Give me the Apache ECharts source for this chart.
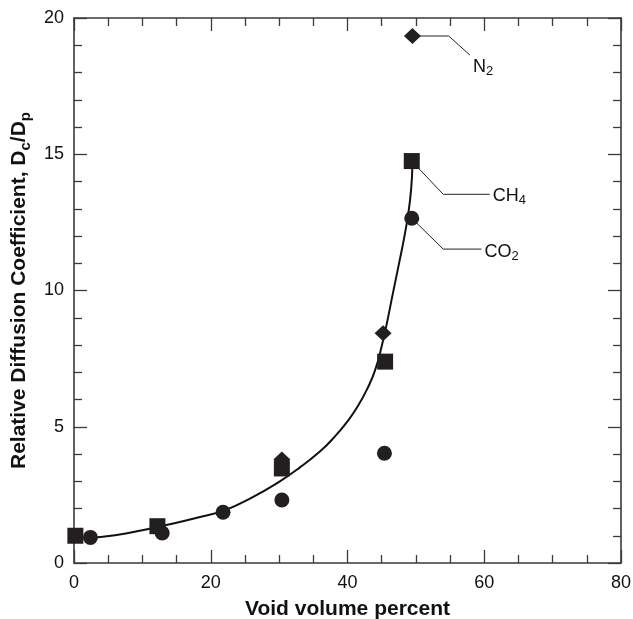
<!DOCTYPE html>
<html>
<head>
<meta charset="utf-8">
<script src="https://cdn.jsdelivr.net/npm/echarts@6/dist/echarts.min.js"></script>
<style>
html,body{margin:0;padding:0;background:#fff;}
#chart{width:633px;height:619px;}
</style>
</head>
<body>
<div id="chart"></div>
<script>
// CH4 (squares)
var ch4X = [0.2, 12.2, 30.4, 45.5, 49.4];
var ch4Y = [1.0, 1.35, 3.47, 7.39, 14.75];
// CO2 (circles)
var co2X = [2.4, 12.9, 21.8, 30.4, 45.4, 49.4];
var co2Y = [0.94, 1.1, 1.86, 2.31, 4.03, 12.65];
// N2 (diamonds)
var n2X = [30.4, 45.2, 49.5];
var n2Y = [3.8, 8.43, 19.34];
// fitted curve
var fitX = [2.4, 6, 10, 14, 18, 22, 26, 30, 33, 36, 38, 40, 41.5, 43, 44, 45, 45.8, 46.6, 47.5, 48.3, 48.9, 49.3, 49.5];
var fitY = [0.92, 1.02, 1.2, 1.42, 1.66, 1.93, 2.4, 2.98, 3.5, 4.1, 4.6, 5.2, 5.75, 6.45, 7.05, 7.95, 8.85, 9.85, 10.95, 11.95, 12.85, 13.7, 14.6];
// annotation leader lines (data coordinates)
var n2LeadX = [49.5, 54.8, 57.9];
var n2LeadY = [19.34, 19.34, 18.64];
var ch4LeadX = [49.4, 54.0, 60.8];
var ch4LeadY = [14.75, 13.53, 13.53];
var co2LeadX = [49.4, 54.0, 59.6];
var co2LeadY = [12.65, 11.52, 11.52];

var xTicks = [0, 20, 40, 60, 80];
var yTicks = [0, 5, 10, 15, 20];

function pairs(xs, ys){ return xs.map(function(x,i){ return [x, ys[i]]; }); }

var FONT = 'Liberation Sans, Arial, Helvetica, sans-serif';
var INK = '#231f20';
var AX = '#3a3a3a';

function axisCommon(showLabel, minorSplit, margin){
  return {
    type: 'value',
    axisLine: {show: true, onZero: false, lineStyle: {color: AX, width: 1.6}},
    axisTick: {show: true, inside: true, length: 13, lineStyle: {color: AX, width: 1.3}},
    minorTick: {show: true, splitNumber: minorSplit, length: 8, lineStyle: {color: AX, width: 1.3}},
    splitLine: {show: false},
    axisLabel: {show: showLabel, color: '#111', fontFamily: FONT, fontSize: 18, margin: margin}
  };
}

var xBottom = Object.assign(axisCommon(true, 4, 11), {
  position: 'bottom', min: xTicks[0], max: xTicks[xTicks.length-1], interval: 20,
  name: 'Void volume percent', nameLocation: 'middle', nameGap: 36,
  nameTextStyle: {fontFamily: FONT, fontWeight: 'bold', fontSize: 21, color: '#111'}
});
var xTop = Object.assign(axisCommon(false, 4, 8), {
  position: 'top', min: xTicks[0], max: xTicks[xTicks.length-1], interval: 20
});
var yLeft = Object.assign(axisCommon(true, 5, 10), {
  position: 'left', min: yTicks[0], max: yTicks[yTicks.length-1], interval: 5,
  name: '{b|Relative Diffusion Coefficient, D}{s|c}{b|/D}{s|p}',
  nameLocation: 'middle', nameRotate: 90, nameGap: 34,
  nameTextStyle: {
    fontFamily: FONT, fontWeight: 'bold', fontSize: 21, color: '#111',
    rich: {
      b: {fontFamily: FONT, fontWeight: 'bold', fontSize: 21, color: '#111', lineHeight: 27, verticalAlign: 'middle'},
      s: {fontFamily: FONT, fontWeight: 'bold', fontSize: 15, color: '#111', lineHeight: 15, verticalAlign: 'bottom'}
    }
  }
});
var yRight = Object.assign(axisCommon(false, 5, 10), {
  position: 'right', min: yTicks[0], max: yTicks[yTicks.length-1], interval: 5
});

function leader(xs, ys, main, sub, offset){
  return {
    type: 'line', xAxisIndex: 0, yAxisIndex: 0, z: 1,
    data: pairs(xs, ys), symbol: 'none', silent: true,
    lineStyle: {color: '#222', width: 1},
    endLabel: {
      show: true, distance: 3, offset: offset,
      formatter: '{m|' + main + '}{s|' + sub + '}',
      rich: {
        m: {fontFamily: FONT, fontSize: 18, color: '#111', lineHeight: 22, verticalAlign: 'middle'},
        s: {fontFamily: FONT, fontSize: 13, color: '#111', lineHeight: 13, verticalAlign: 'bottom'}
      }
    },
    animation: false
  };
}

var option = {
  animation: false,
  backgroundColor: '#fff',
  grid: {left: 74, right: 12, top: 18, bottom: 56, containLabel: false, outerBoundsMode: 'none'},
  xAxis: [xBottom, xTop],
  yAxis: [yLeft, yRight],
  series: [
    {
      type: 'line', data: pairs(fitX, fitY), smooth: 0.5,
      symbol: 'none', lineStyle: {color: '#111', width: 2}, z: 2
    },
    leader(n2LeadX, n2LeadY, 'N', '2', [0, 12]),
    leader(ch4LeadX, ch4LeadY, 'CH', '4', [0, 2]),
    leader(co2LeadX, co2LeadY, 'CO', '2', [0, 3]),
    {
      type: 'scatter', name: 'CH4', data: pairs(ch4X, ch4Y), symbol: 'rect', symbolSize: 16,
      itemStyle: {color: INK, opacity: 1}, z: 3
    },
    {
      type: 'scatter', name: 'CO2', data: pairs(co2X, co2Y), symbol: 'circle', symbolSize: 15,
      itemStyle: {color: INK, opacity: 1}, z: 4
    },
    {
      type: 'scatter', name: 'N2', data: pairs(n2X, n2Y), symbol: 'diamond', symbolSize: [17, 16],
      itemStyle: {color: INK, opacity: 1}, z: 3
    }
  ]
};

var chart = echarts.init(document.getElementById('chart'), null, {renderer: 'canvas'});
chart.setOption(option);
</script>
</body>
</html>
